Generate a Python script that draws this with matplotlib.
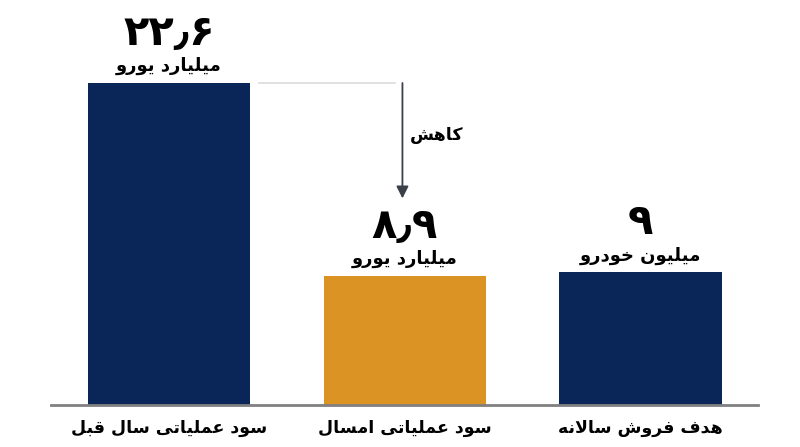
import matplotlib
matplotlib.use("Agg")
import matplotlib.pyplot as plt

plt.rcParams["font.family"] = ["DejaVu Sans"]

# داده‌ها
categories = ["سود عملیاتی سال قبل", "سود عملیاتی امسال", "هدف فروش سالانه"]
values = [22.6, 9.05, 9.3]          # ارتفاع میله‌ها (خوانده‌شده از تصویر)
value_labels = ["۲۲٫۶", "۸٫۹", "۹"]
unit_labels = ["میلیارد یورو", "میلیارد یورو", "میلیون خودرو"]
bar_colors = ["#0a2558", "#db9324", "#0a2558"]
drop_label = "کاهش"

# شکل‌دهی ساده‌ی حروف فارسی برای matplotlib (بدون raqm)
FORMS = {
    "ا": ("\uFE8D", "\uFE8E", None, None),
    "د": ("\uFEA9", "\uFEAA", None, None),
    "ر": ("\uFEAD", "\uFEAE", None, None),
    "و": ("\uFEED", "\uFEEE", None, None),
    "ب": ("\uFE8F", "\uFE90", "\uFE91", "\uFE92"),
    "ت": ("\uFE95", "\uFE96", "\uFE97", "\uFE98"),
    "خ": ("\uFEA5", "\uFEA6", "\uFEA7", "\uFEA8"),
    "س": ("\uFEB1", "\uFEB2", "\uFEB3", "\uFEB4"),
    "ش": ("\uFEB5", "\uFEB6", "\uFEB7", "\uFEB8"),
    "ع": ("\uFEC9", "\uFECA", "\uFECB", "\uFECC"),
    "ف": ("\uFED1", "\uFED2", "\uFED3", "\uFED4"),
    "ق": ("\uFED5", "\uFED6", "\uFED7", "\uFED8"),
    "ل": ("\uFEDD", "\uFEDE", "\uFEDF", "\uFEE0"),
    "م": ("\uFEE1", "\uFEE2", "\uFEE3", "\uFEE4"),
    "ن": ("\uFEE5", "\uFEE6", "\uFEE7", "\uFEE8"),
    "ه": ("\uFEE9", "\uFEEA", "\uFEEB", "\uFEEC"),
    "ی": ("\uFBFC", "\uFBFD", "\uFBFE", "\uFBFF"),
    "ک": ("\uFB8E", "\uFB8F", "\uFB90", "\uFB91"),
}
LAM_ALEF = ("\uFEFB", "\uFEFC")


def dual(c):
    return c in FORMS and FORMS[c][2] is not None


def fa(text):
    out = []
    i = 0
    n = len(text)
    while i < n:
        c = text[i]
        if c not in FORMS:
            out.append(c)
            i += 1
            continue
        prev = text[i - 1] if i > 0 else ""
        jp = dual(prev)
        if c == "ل" and i + 1 < n and text[i + 1] == "ا":
            out.append(LAM_ALEF[1] if jp else LAM_ALEF[0])
            i += 2
            continue
        nxt = text[i + 1] if i + 1 < n else ""
        jn = dual(c) and nxt in FORMS
        iso, fin, ini, med = FORMS[c]
        if jp and jn:
            out.append(med)
        elif jp:
            out.append(fin)
        elif jn:
            out.append(ini)
        else:
            out.append(iso)
        i += 1
    return "".join(reversed(out))


fig = plt.figure(figsize=(8, 4.47), dpi=100)
ax = fig.add_axes([0.064, 0.094, 0.884, 0.906])
x = list(range(len(categories)))
ax.bar(x, values, width=0.688, color=bar_colors, zorder=2)
ax.set_xlim(-0.5, 2.5)
ax.set_ylim(0, values[0] * 405 / 322)

for s in ("top", "right", "left"):
    ax.spines[s].set_visible(False)
ax.spines["bottom"].set_color("#808080")
ax.spines["bottom"].set_linewidth(2)
ax.set_yticks([])
ax.set_xticks(x)
ax.set_xticklabels([fa(c) for c in categories], fontsize=12.5, fontweight="bold")
ax.tick_params(axis="x", length=0, pad=10)

for xi, v, num, unit in zip(x, values, value_labels, unit_labels):
    ax.annotate(num, (xi, v), xytext=(0, 36), textcoords="offset points",
                ha="center", va="center", fontsize=30, fontweight="bold")
    ax.annotate(fa(unit), (xi, v), xytext=(0, 12), textcoords="offset points",
                ha="center", va="center", fontsize=13, fontweight="bold")

# خط راهنما و پیکان کاهش
arrow_end = values[1] + 5.45
ax.plot([0.38, 0.96], [values[0], values[0]], color="#dcdcdc", lw=1.2, zorder=1)
ax.annotate("", xy=(0.99, arrow_end), xytext=(0.99, values[0]),
            arrowprops=dict(arrowstyle="-|>", color="#3b3f48", lw=1.3,
                            mutation_scale=18, shrinkA=0, shrinkB=0))
ax.text(1.02, (values[0] + arrow_end) / 2 + 0.4, fa(drop_label),
        ha="left", va="center", fontsize=12.5, fontweight="bold")

fig.savefig("out.png", dpi=100)
